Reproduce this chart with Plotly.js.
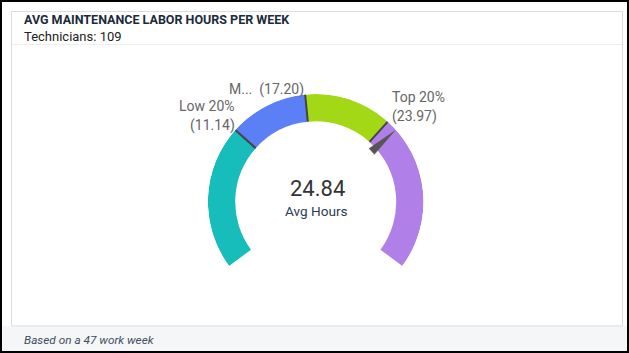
<!DOCTYPE html>
<html>
<head>
<meta charset="utf-8">
<script src="https://cdn.plot.ly/plotly-3.0.1.min.js"></script>
<style>
html,body{margin:0;padding:0;background:#fff;}
#chart{width:629px;height:353px;}
</style>
</head>
<body>
<div id="chart"></div>
<script>
// ---- data ----
const chartTitle = 'AVG MAINTENANCE LABOR HOURS PER WEEK';
const subTitle = 'Technicians: 109';
const footNote = 'Based on a 47 work week';
const gaugeMin = 0;
const gaugeMax = 36;
const bandEdges = [0, 11.14, 17.20, 23.97, 36];
const bandColors = ['#17BDBB', '#5B80F5', '#A2D815', '#B07FE8'];
const boundaryValues = [11.14, 17.20, 23.97];
const boundaryNames = ['Low 20%', 'M...', 'Top 20%'];
const avgValue = 24.84;
const avgLabel = 'Avg Hours';

// ---- geometry (layout only) ----
const W = 629, H = 353;
const startAng = 216.5, sweep = 253;
const cx = 315.7, cy = 201.8, R = 107.8, Rin = 80.5;
const ang = v => startAng - (v - gaugeMin) / (gaugeMax - gaugeMin) * sweep;
const px = x => x / W, py = y => 1 - y / H;
const fmt = v => v.toFixed(2);

const traces = [];
// bands
traces.push({
  type: 'barpolar',
  theta: bandColors.map((c, i) => ang((bandEdges[i] + bandEdges[i + 1]) / 2)),
  width: bandColors.map((c, i) => (bandEdges[i + 1] - bandEdges[i]) / (gaugeMax - gaugeMin) * sweep),
  r: bandColors.map(() => R - Rin),
  base: bandColors.map(() => Rin),
  marker: {color: bandColors, line: {width: 0}},
  hoverinfo: 'skip'
});
// boundary lines
const bt = [], br = [];
boundaryValues.forEach(v => { bt.push(ang(v), ang(v), null); br.push(Rin, R, null); });
traces.push({
  type: 'scatterpolar', mode: 'lines', theta: bt, r: br,
  line: {color: '#444', width: 2}, hoverinfo: 'skip'
});
// avg needle
const na = ang(avgValue);
traces.push({
  type: 'scatterpolar', mode: 'lines', fill: 'toself',
  theta: [na - 3, na + 3, na, na - 3],
  r: [75.5, 75.5, 106, 75.5],
  line: {color: '#555', width: 0.5}, fillcolor: '#555', hoverinfo: 'skip'
});

const ff = 'Roboto, "Open Sans", Arial, sans-serif';
const annotations = [
  {text: '<b>' + chartTitle + '</b>', x: px(22), y: py(19.5), xanchor: 'left', yanchor: 'middle', font: {size: 12.5, color: '#1B2B3C', family: ff}},
  {text: subTitle, x: px(22), y: py(37), xanchor: 'left', yanchor: 'middle', font: {size: 13, color: '#222', family: ff}},
  {text: '<i>' + footNote + '</i>', x: px(22), y: py(340), xanchor: 'left', yanchor: 'middle', font: {size: 11.8, color: '#3E4E60', family: ff}},
  {text: fmt(avgValue), x: px(cx + 1.5), y: py(188), xanchor: 'center', yanchor: 'middle', font: {size: 22, color: '#333', family: ff}},
  {text: avgLabel, x: px(cx + 1), y: py(211), xanchor: 'center', yanchor: 'middle', font: {size: 13.6, color: '#2B3D55', family: ff}},
  {text: boundaryNames[0], x: px(237), y: py(106), xanchor: 'right', yanchor: 'middle', font: {size: 14, color: '#666', family: ff}},
  {text: '(' + fmt(boundaryValues[0]) + ')', x: px(237), y: py(126), xanchor: 'right', yanchor: 'middle', font: {size: 14, color: '#666', family: ff}},
  {text: boundaryNames[1] + '&nbsp;&nbsp;(' + fmt(boundaryValues[1]) + ')', x: px(305.5), y: py(89), xanchor: 'right', yanchor: 'middle', font: {size: 14, color: '#666', family: ff}},
  {text: boundaryNames[2], x: px(389.5), y: py(97), xanchor: 'left', yanchor: 'middle', font: {size: 14, color: '#666', family: ff}},
  {text: '(' + fmt(boundaryValues[2]) + ')', x: px(389.5), y: py(117), xanchor: 'left', yanchor: 'middle', font: {size: 14, color: '#666', family: ff}}
].map(a => Object.assign({xref: 'paper', yref: 'paper', showarrow: false}, a));

const shapes = [
  {type: 'rect', x0: px(1), x1: px(628), y0: py(326), y1: py(352), fillcolor: '#F4F6F8', line: {width: 0}, layer: 'below'},
  {type: 'rect', x0: px(11.5), x1: px(622.5), y0: py(326), y1: py(11.5), fillcolor: '#FFFFFF', line: {color: '#DCDCDC', width: 1}, layer: 'below'},
  {type: 'line', x0: px(12), x1: px(622), y0: py(44.5), y1: py(44.5), line: {color: '#EEEEEE', width: 1}, layer: 'below'},
  {type: 'rect', x0: px(1), x1: px(628), y0: py(352), y1: py(1), line: {color: '#000', width: 2}, fillcolor: 'rgba(0,0,0,0)', layer: 'above'}
].map(s => Object.assign({xref: 'paper', yref: 'paper'}, s));

const layout = {
  width: W, height: H,
  margin: {l: 0, r: 0, t: 0, b: 0},
  paper_bgcolor: '#fff',
  showlegend: false,
  polar: {
    domain: {x: [px(cx - R), px(cx + R)], y: [py(cy + R), py(cy - R)]},
    bgcolor: 'rgba(0,0,0,0)',
    radialaxis: {range: [0, R], visible: false},
    angularaxis: {visible: false, direction: 'counterclockwise', rotation: 0, thetaunit: 'degrees'}
  },
  annotations: annotations,
  shapes: shapes
};

Plotly.newPlot('chart', traces, layout, {staticPlot: true, displayModeBar: false});
</script>
</body>
</html>
